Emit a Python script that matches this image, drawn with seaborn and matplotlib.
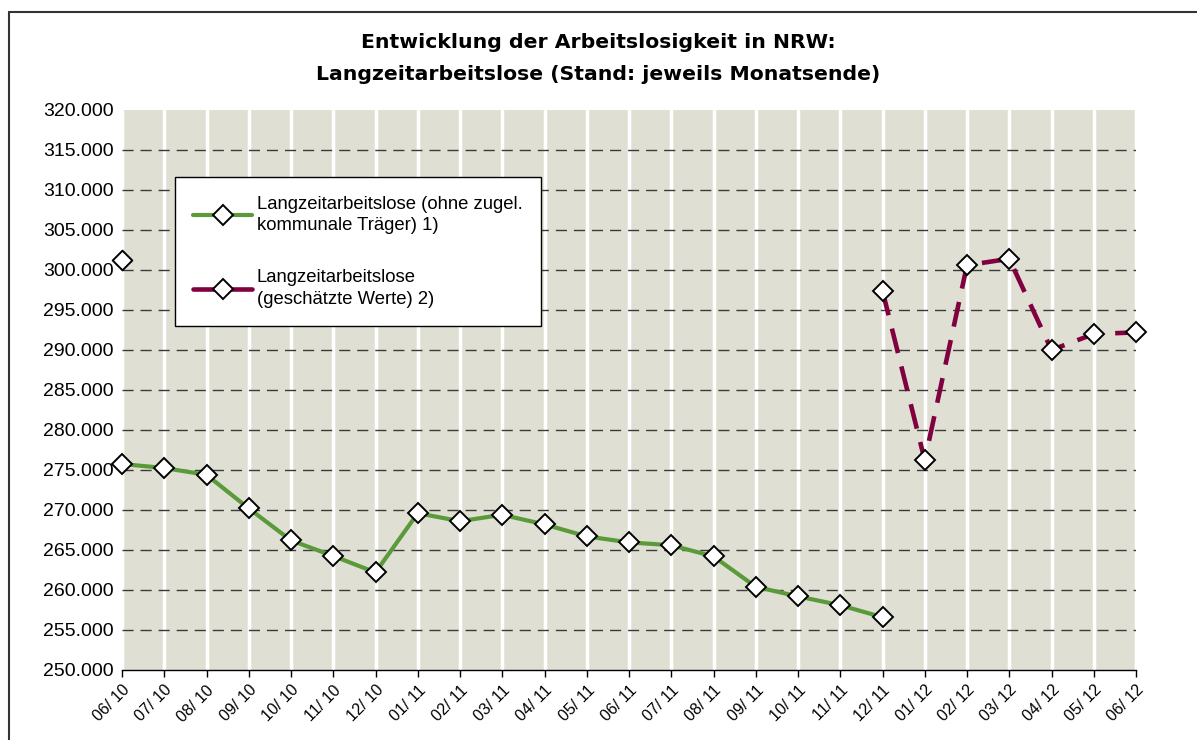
import numpy as np
import pandas as pd
import matplotlib.pyplot as plt
import seaborn as sns
from matplotlib.ticker import FuncFormatter, MultipleLocator
from matplotlib.lines import Line2D

plt.switch_backend("Agg")

# ---------- data ----------
months = ["06/ 10", "07/ 10", "08/ 10", "09/ 10", "10/ 10", "11/ 10", "12/ 10",
          "01/ 11", "02/ 11", "03/ 11", "04/ 11", "05/ 11", "06/ 11", "07/ 11",
          "08/ 11", "09/ 11", "10/ 11", "11/ 11", "12/ 11",
          "01/ 12", "02/ 12", "03/ 12", "04/ 12", "05/ 12", "06/ 12"]

# Langzeitarbeitslose (ohne zugel. kommunale Träger)
green_vals = [275750, 275250, 274400, 270200, 266200, 264250, 262200,
              269600, 268600, 269400, 268200, 266700, 265950, 265600,
              264200, 260400, 259200, 258100, 256600]

# geschätzte Werte (incl. einzelner Punkt bei 06/10)
red_vals = [301300] + [np.nan] * 17 + [297400, 276200, 300600, 301400,
                                        290000, 292000, 292200]

GREEN = "#5b9a3a"
RED = "#800040"
BG = "#dfe0d3"

sns.set_style("white")
plt.rcParams["font.family"] = ["Liberation Sans", "DejaVu Sans"]
plt.rcParams["text.color"] = "black"
plt.rcParams["xtick.color"] = "black"
plt.rcParams["ytick.color"] = "black"

df_g = pd.DataFrame({"x": np.arange(len(green_vals)), "y": green_vals})
df_r = pd.DataFrame({"x": np.arange(len(red_vals)), "y": red_vals})

fig = plt.figure(figsize=(11.97, 7.40), dpi=100)
ax = fig.add_axes([122 / 1197, 1 - 670 / 740, 1014 / 1197, 560 / 740])
ax.set_facecolor(BG)

mk = dict(marker="D", markersize=10, markerfacecolor="white",
          markeredgecolor="black", markeredgewidth=1.4)

sns.lineplot(data=df_g, x="x", y="y", color=GREEN, lw=3, ax=ax, zorder=4,
             clip_on=False, **mk)

# isolated point + connected segment of the estimated series
red_seg = df_r.dropna()
runs = (red_seg["x"].diff() != 1).cumsum()
for _, part in red_seg.groupby(runs):
    if len(part) == 1:
        sns.scatterplot(data=part, x="x", y="y", marker="D", s=100, color="white",
                        edgecolor="black", linewidth=1.4, ax=ax, zorder=5,
                        clip_on=False)
    else:
        sns.lineplot(data=part, x="x", y="y", color=RED, lw=3.3, ax=ax, zorder=4,
                     linestyle=(0, (5.5, 3.0)), clip_on=False, **mk)

ax.set_xlim(0, len(months) - 1)
ax.set_ylim(250000, 320000)
ax.yaxis.set_major_locator(MultipleLocator(5000))
ax.yaxis.set_major_formatter(FuncFormatter(lambda v, p: f"{v:,.0f}".replace(",", ".")))
ax.set_xticks(range(len(months)))
ax.set_xticklabels(months, rotation=45, ha="right", rotation_mode="anchor", fontsize=11.5)
ax.tick_params(axis="y", length=0, pad=6, labelsize=14)
ax.tick_params(axis="x", direction="out", length=5, width=1, color="black",
               bottom=True, pad=4)
ax.set_xlabel("")
ax.set_ylabel("")

# white vertical separators, dashed horizontal lines (not at the limits)
ax.grid(axis="x", color="white", lw=2.5)
ax.grid(axis="y", visible=False)
ax.hlines(np.arange(255000, 320000, 5000), 0, len(months) - 1,
          color="#3a3a3a", lw=1, linestyle=(0, (8, 5)), zorder=1)
ax.set_axisbelow(True)

for s in ["top", "right", "left"]:
    ax.spines[s].set_visible(False)
ax.spines["bottom"].set_color("black")
ax.spines["bottom"].set_linewidth(1)

# legend
h1 = Line2D([], [], color=GREEN, lw=3, **mk)
h2 = Line2D([], [], color=RED, lw=3.3, **mk)
leg = ax.legend([h1, h2],
                ["Langzeitarbeitslose (ohne zugel.\nkommunale Träger) 1)",
                 "Langzeitarbeitslose\n(geschätzte Werte) 2)"],
                loc="upper left", bbox_to_anchor=(0.052, 0.880), borderaxespad=0,
                fontsize=13.3, frameon=True, fancybox=False, edgecolor="black",
                framealpha=1, handlelength=3.2, handletextpad=0.25,
                labelspacing=1.9, borderpad=1.0)
leg.get_frame().set_linewidth(1)
for t in leg.get_texts():
    t.set_linespacing(1.35)

fig.text(0.5, 1 - 42 / 740, "Entwicklung der Arbeitslosigkeit in NRW:",
         ha="center", va="center", fontsize=14.7, fontweight="bold",
         family="DejaVu Sans", color="black")
fig.text(0.5, 1 - 75 / 740, "Langzeitarbeitslose (Stand: jeweils Monatsende)",
         ha="center", va="center", fontsize=14.7, fontweight="bold",
         family="DejaVu Sans", color="black")

# outer frame
fig.add_artist(Line2D([8.5 / 1197, 8.5 / 1197], [0, 1 - 12 / 740],
                      transform=fig.transFigure, color="#333333", lw=1.5))
fig.add_artist(Line2D([8.5 / 1197, 1], [1 - 12 / 740, 1 - 12 / 740],
                      transform=fig.transFigure, color="#333333", lw=1.5))

plt.savefig("out.png", dpi=100)
plt.close()
